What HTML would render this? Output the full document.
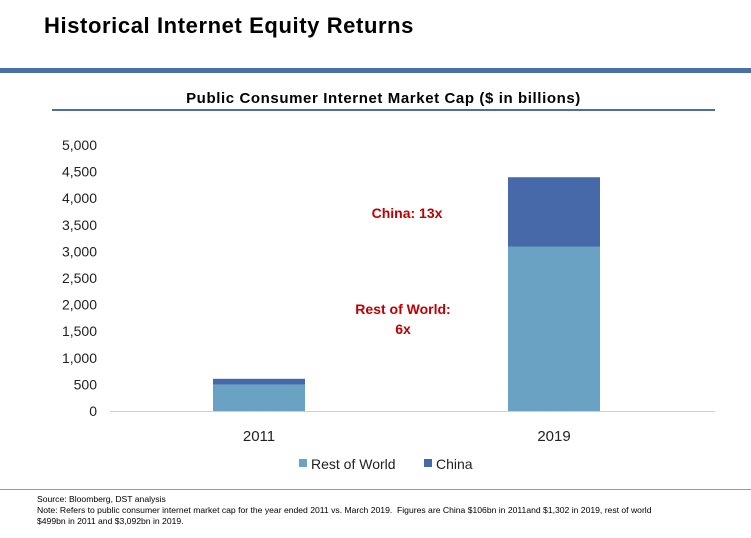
<!DOCTYPE html>
<html><head><meta charset="utf-8"><style>
body{margin:0;width:751px;height:538px;background:#fff;font-family:"Liberation Sans",sans-serif;position:relative;overflow:hidden}
.abs{position:absolute}
</style></head><body>
<div class="abs" style="left:44px;top:13px;font-size:22px;letter-spacing:0.6px;font-weight:bold;color:#000">Historical Internet Equity Returns</div>
<div class="abs" style="left:0;top:68px;width:751px;height:5px;background:#4a6fa8"></div>
<div class="abs" style="left:52px;width:663px;top:90px;text-align:center;font-size:15px;letter-spacing:0.6px;font-weight:bold">Public Consumer Internet Market Cap ($ in billions)</div>
<div class="abs" style="left:52px;top:109px;width:663px;height:2px;background:#4a6fa8"></div>
<svg class="abs" style="left:0;top:0" width="751" height="538" id="chart"></svg>
<div class="abs" style="left:0;top:489px;width:751px;height:1px;background:#8a9cc0"></div>
<div class="abs" style="left:37px;top:494px;font-size:8.6px;line-height:11px;color:#000">Source: Bloomberg, DST analysis<br>Note: Refers to public consumer internet market cap for the year ended 2011 vs. March 2019.&nbsp; Figures are China $106bn in 2011and $1,302 in 2019, rest of world<br>$499bn in 2011 and $3,092bn in 2019.</div>
<script>
const categories=["2011","2019"];
const restOfWorld=[499,3092];
const china=[106,1302];
const yTicks=[0,500,1000,1500,2000,2500,3000,3500,4000,4500,5000];
const yTickLabels=["0","500","1,000","1,500","2,000","2,500","3,000","3,500","4,000","4,500","5,000"];
const NS="http://www.w3.org/2000/svg";
const svg=document.getElementById('chart');
const y=v=>411-v*(266/5000);
const xCenter=i=>259+i*295;
const bw=92;
function mk(t,a){const e=document.createElementNS(NS,t);for(const k in a)e.setAttribute(k,a[k]);svg.appendChild(e);return e;}
yTicks.forEach((v,i)=>{const t=mk('text',{x:97,y:y(v)+5,'text-anchor':'end','font-size':14,fill:'#222','font-family':'Liberation Sans, sans-serif'});t.textContent=yTickLabels[i];

});
const ax=mk('line',{x1:110,x2:715,y1:411.5,y2:411.5,stroke:'#d0d0d0','stroke-width':1});


categories.forEach((c,i)=>{
const x=xCenter(i)-bw/2;
const r=mk('rect',{x:x,y:y(restOfWorld[i]),width:bw,height:y(0)-y(restOfWorld[i]),fill:'#6aa2c3'});


const top=restOfWorld[i]+china[i];
const b=mk('rect',{x:x,y:y(top),width:bw,height:y(restOfWorld[i])-y(top),fill:'#4669a9'});


const t=mk('text',{x:xCenter(i),y:441,'text-anchor':'middle','font-size':15,fill:'#222','font-family':'Liberation Sans, sans-serif'});t.textContent=c;


});
function txt(s,x,yy,attrs,name){const t=mk('text',Object.assign({x:x,y:yy,'font-family':'Liberation Sans, sans-serif'},attrs));t.textContent=s;return t;}
txt('China:  13x',407,218,{'text-anchor':'middle','font-size':14,'font-weight':'bold',fill:'#c00000'},'china-annotation');
txt('Rest of World:',403,314,{'text-anchor':'middle','font-size':14,'font-weight':'bold',fill:'#c00000'},'row-annotation');
txt('6x',403,334,{'text-anchor':'middle','font-size':14,'font-weight':'bold',fill:'#c00000'},'row-annotation-multiple');
const l1=mk('rect',{x:299,y:459,width:8,height:8,fill:'#6aa2c3'});


txt('Rest of World',311,469,{'font-size':14,fill:'#222'},'legend-label-rest-of-world');
const l2=mk('rect',{x:424,y:459,width:8,height:8,fill:'#4669a9'});


txt('China',436,469,{'font-size':14,fill:'#222'},'legend-label-china');
</script>
</body></html>
